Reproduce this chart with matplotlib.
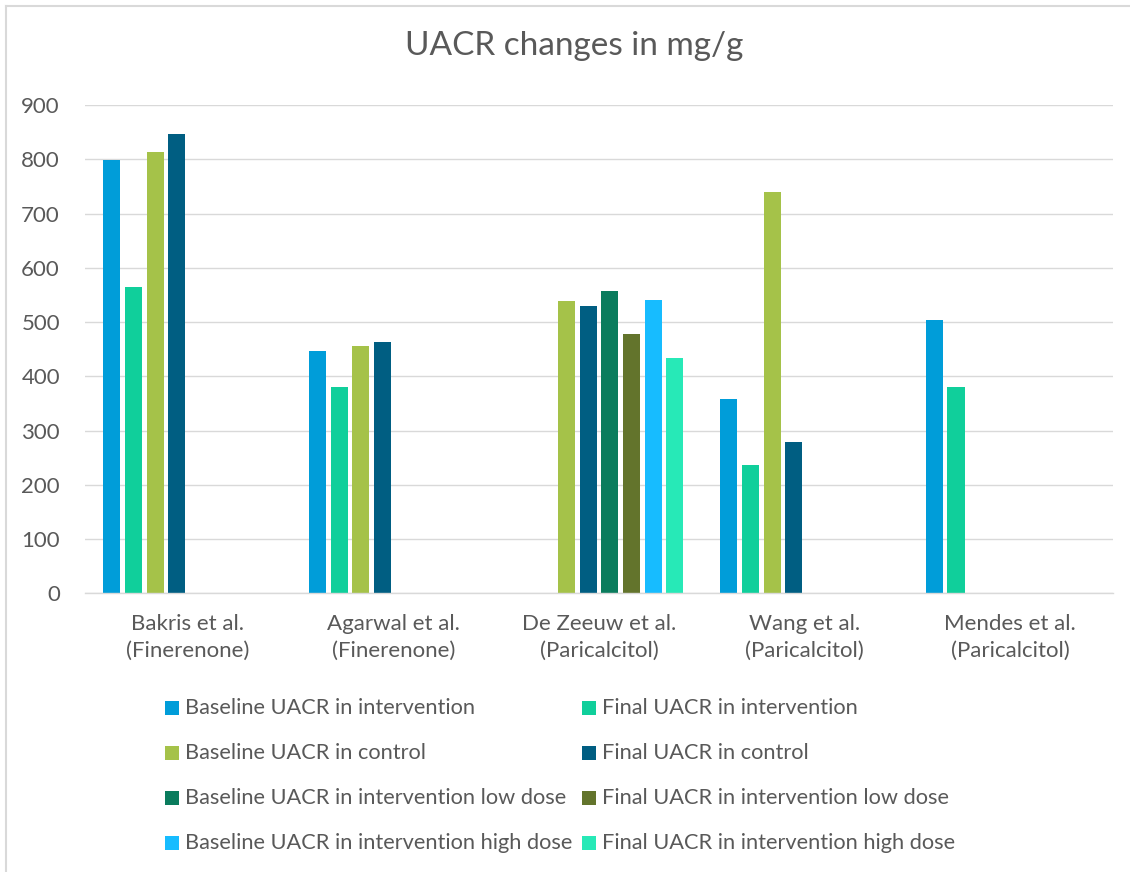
import numpy as np
import matplotlib
matplotlib.use('Agg')
from matplotlib import pyplot as plt
from matplotlib.patches import Rectangle
from matplotlib.lines import Line2D

plt.rcParams['font.family'] = ['Lato', 'DejaVu Sans']

# data
studies = ['Bakris et al.\n(Finerenone)', 'Agarwal et al.\n(Finerenone)',
           'De Zeeuw et al.\n(Paricalcitol)', 'Wang et al.\n(Paricalcitol)',
           'Mendes et al.\n(Paricalcitol)']
series_names = ['Baseline UACR in intervention', 'Final UACR in intervention',
                'Baseline UACR in control', 'Final UACR in control',
                'Baseline UACR in intervention low dose', 'Final UACR in intervention low dose',
                'Baseline UACR in intervention high dose', 'Final UACR in intervention high dose']
nan = np.nan
baseline_int = [798, 446, nan, 359, 503]
final_int = [564, 381, nan, 237, 381]
baseline_ctrl = [814, 455, 539, 740, nan]
final_ctrl = [847, 463, 530, 278, nan]
baseline_low = [nan, nan, 557, nan, nan]
final_low = [nan, nan, 478, nan, nan]
baseline_high = [nan, nan, 540, nan, nan]
final_high = [nan, nan, 433, nan, nan]

values = [baseline_int, final_int, baseline_ctrl, final_ctrl,
          baseline_low, final_low, baseline_high, final_high]
colors = ['#009DD9', '#10CF9B', '#A5C249', '#005E82',
          '#0A7C5D', '#63742C', '#17BCFF', '#27E9B7']

W, H = 1130, 872
txt = '#595959'
grid = '#D9D9D9'

fig = plt.figure(figsize=(W / 100, H / 100), dpi=100)
ax = fig.add_axes([85 / W, 1 - 593.3 / H, 1028 / W, 488.3 / H])

x = np.arange(len(studies))
pitch = 0.1055
for i, (vals, c) in enumerate(zip(values, colors)):
    ax.bar(x + (i - 3.5) * pitch, vals, width=0.083, color=c, zorder=3)

ax.set_xlim(-0.5, len(studies) - 0.5)
ax.set_ylim(0, 900)
ax.set_yticks(range(0, 901, 100))
ax.set_xticks(x)
ax.set_xticklabels(studies, linespacing=1.42)
ax.yaxis.grid(True, color=grid, linewidth=1.0, zorder=0)
for s in ['left', 'right', 'top']:
    ax.spines[s].set_visible(False)
ax.spines['bottom'].set_color(grid)
ax.spines['bottom'].set_linewidth(1.0)
ax.spines['bottom'].set_zorder(4)
ax.tick_params(axis='both', length=0, labelsize=16, labelcolor=txt)
ax.tick_params(axis='y', pad=18)
ax.tick_params(axis='x', pad=15)

fig.text(574.5 / W, 1 - 46 / H, 'UACR changes in mg/g', ha='center', va='center',
         fontsize=24, color=txt)

# legend, two columns, row-major order
for i, (name, c) in enumerate(zip(series_names, colors)):
    row, col = divmod(i, 2)
    mx = 165 if col == 0 else 582
    my = 708 + row * 45
    fig.patches.append(Rectangle((mx / W, 1 - (my + 6.8) / H), 13.7 / W, 13.6 / H,
                                 transform=fig.transFigure, facecolor=c, edgecolor='none'))
    fig.text((mx + 20) / W, 1 - my / H, name, ha='left', va='center', fontsize=15.7, color=txt)

# chart border
fig.add_artist(Line2D([6 / W, 6 / W], [0, 1 - 6 / H], color=grid, linewidth=1.5))
fig.add_artist(Line2D([6 / W, 1], [1 - 6 / H, 1 - 6 / H], color=grid, linewidth=1.5))

fig.savefig('out.png', dpi=100, facecolor='white')
